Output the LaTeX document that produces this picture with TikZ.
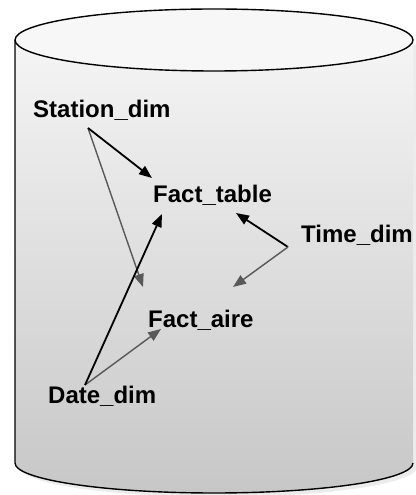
\documentclass[tikz,border=0pt]{standalone}
\usepackage{fontspec}
\setmainfont{Liberation Sans}
\usetikzlibrary{arrows.meta,shadows,calc}

\tikzset{
  dimlabel/.style={anchor=base west, inner sep=0pt, font=\fontsize{24}{28}\selectfont\bfseries},
  darklink/.style={draw=black, line width=1.8pt, -{Triangle[length=13pt,width=10pt]}},
  greylink/.style={draw=black!65, line width=1.4pt, -{Triangle[length=13pt,width=10pt]}}
}

\begin{document}
\begin{tikzpicture}[x=1pt, y=1pt]
    \useasboundingbox (0,0) rectangle (415,495);

    % Cylinder shadow
    \fill[black!12, opacity=0.6] (19,450) -- (19,28) arc[start angle=180, end angle=360, x radius=199, y radius=30] -- (417,450) -- cycle;

    % Cylinder body
    \shade[top color=black!4, bottom color=black!22] (15,455) -- (15,32) arc[start angle=180, end angle=360, x radius=199, y radius=30] -- (413,455) -- cycle;
    \draw[line width=1.4pt] (15,455) -- (15,32) arc[start angle=180, end angle=360, x radius=199, y radius=30];

    % Cylinder top
    \draw[line width=1.4pt, fill=black!3] (214,455) ellipse[x radius=199, y radius=31];

    % Tables
    \node[dimlabel] (station) at (33,377) {Station\_dim};
    \node[dimlabel] (facttable) at (153,292) {Fact\_table};
    \node[dimlabel] (timedim) at (301,252) {Time\_dim};
    \node[dimlabel] (factaire) at (148,167) {Fact\_aire};
    \node[dimlabel] (datedim) at (48,91) {Date\_dim};

    % Link ends
    \coordinate (stationfoot) at (88,367);
    \coordinate (datefoot) at (85,110);
    \coordinate (timefoot) at (288,248);
    \coordinate (tableA) at (152,317);
    \coordinate (tableB) at (162,281);
    \coordinate (tableC) at (236,282);
    \coordinate (aireA) at (143,208);
    \coordinate (aireB) at (161,166);
    \coordinate (aireC) at (233,208);

    % Links
    \draw[greylink] (stationfoot) -- (aireA);
    \draw[darklink] (stationfoot) -- (tableA);
    \draw[greylink] (datefoot) -- (aireB);
    \draw[darklink] (datefoot) -- (tableB);
    \draw[darklink] (timefoot) -- (tableC);
    \draw[greylink] (timefoot) -- (aireC);
\end{tikzpicture}
\end{document}
